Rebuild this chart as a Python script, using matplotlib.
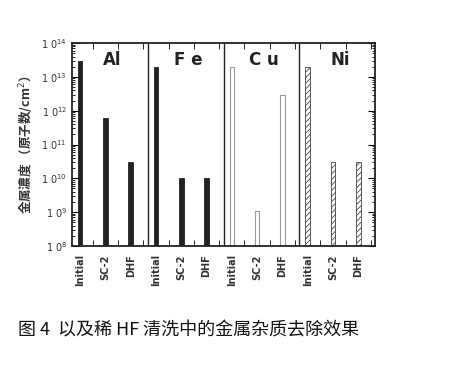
import matplotlib
matplotlib.use("Agg")
import matplotlib.pyplot as plt
from matplotlib.ticker import FixedLocator, LogLocator, NullFormatter
import numpy as np

plt.rcParams['font.family'] = ['DejaVu Sans', 'Noto Sans CJK JP']
plt.rcParams['hatch.linewidth'] = 0.6

# ── Data ──────────────────────────────────────────────────────────────────────
metals = ["Al", "Fe", "Cu", "Ni"]
steps = ["Initial", "SC-2", "DHF"]
al_vals = [3e13, 6e11, 3e10]
fe_vals = [2e13, 1e10, 1e10]
cu_vals = [2e13, 1e9, 3e12]
ni_vals = [2e13, 3e10, 3e10]
ytick_vals = [1e8, 1e9, 1e10, 1e11, 1e12, 1e13, 1e14]
ytick_labels = ["1 0$^{8}$", "1 0$^{9}$", "1 0$^{10}$", "1 0$^{11}$",
                "1 0$^{12}$", "1 0$^{13}$", "1 0$^{14}$"]
panel_titles = ["Al", "F e", "C u", "Ni"]

series = [al_vals, fe_vals, cu_vals, ni_vals]
styles = [
    dict(facecolor="#222222", edgecolor="#222222", hatch=None, lw=0.6),
    dict(facecolor="#222222", edgecolor="#222222", hatch=None, lw=0.6),
    dict(facecolor="white", edgecolor="#999999", hatch=None, lw=0.8),
    dict(facecolor="white", edgecolor="#444444", hatch="//////", lw=0.6),
]

fig = plt.figure(figsize=(4.52, 3.72), dpi=100)
ax = fig.add_axes([0.159, 0.339, 0.671, 0.545])

xpos, xlabels = [], []
for p, vals in enumerate(series):
    x = p * 3 + 0.33 + np.arange(len(steps))
    st = styles[p]
    ax.bar(x, vals, width=0.18, bottom=1e8, facecolor=st["facecolor"],
           edgecolor=st["edgecolor"], hatch=st["hatch"], linewidth=st["lw"])
    xpos.extend(x)
    xlabels.extend(steps)
    ax.text(p * 3 + 1.6, 3.2e13, panel_titles[p], ha="center", va="center",
            fontsize=12, fontweight="bold", color="#222222")
    if p > 0:
        ax.axvline(p * 3, color="#222222", lw=1.0)

ax.set_yscale("log")
ax.set_ylim(1e8, 1e14)
ax.set_xlim(0, 12)
ax.set_yticks(ytick_vals)
ax.set_yticklabels(ytick_labels, fontsize=7, color="#333333")
ax.yaxis.set_minor_locator(LogLocator(base=10, subs=np.arange(2, 10)))
ax.yaxis.set_minor_formatter(NullFormatter())
ax.set_xticks(xpos)
ax.set_xticklabels(xlabels, rotation=90, fontsize=7, fontweight="bold", color="#333333")
ax.xaxis.set_minor_locator(FixedLocator([p * 3 + i + 0.83 for p in range(4) for i in range(3)]))
ax.tick_params(axis="x", which="major", length=0, pad=6)
ax.tick_params(axis="x", which="minor", direction="in", length=4, top=True, bottom=True)
ax.tick_params(axis="y", which="major", direction="in", length=5, left=True, right=True)
ax.tick_params(axis="y", which="minor", direction="in", length=2.5, left=True, right=True)
for s in ax.spines.values():
    s.set_linewidth(1.3)
    s.set_color("#222222")

ax.set_ylabel("金属濃度 （原子数/cm$^2$）", fontsize=9, fontweight="bold",
              family=["Noto Sans CJK JP", "DejaVu Sans"], labelpad=4, color="#333333")

fig.text(0.04, 0.112, "图 4  以及稀 HF 清洗中的金属杂质去除效果", fontsize=13,
         family=["Noto Sans CJK SC", "DejaVu Sans"], va="center", color="#111111")

fig.savefig("out.png", dpi=100)
